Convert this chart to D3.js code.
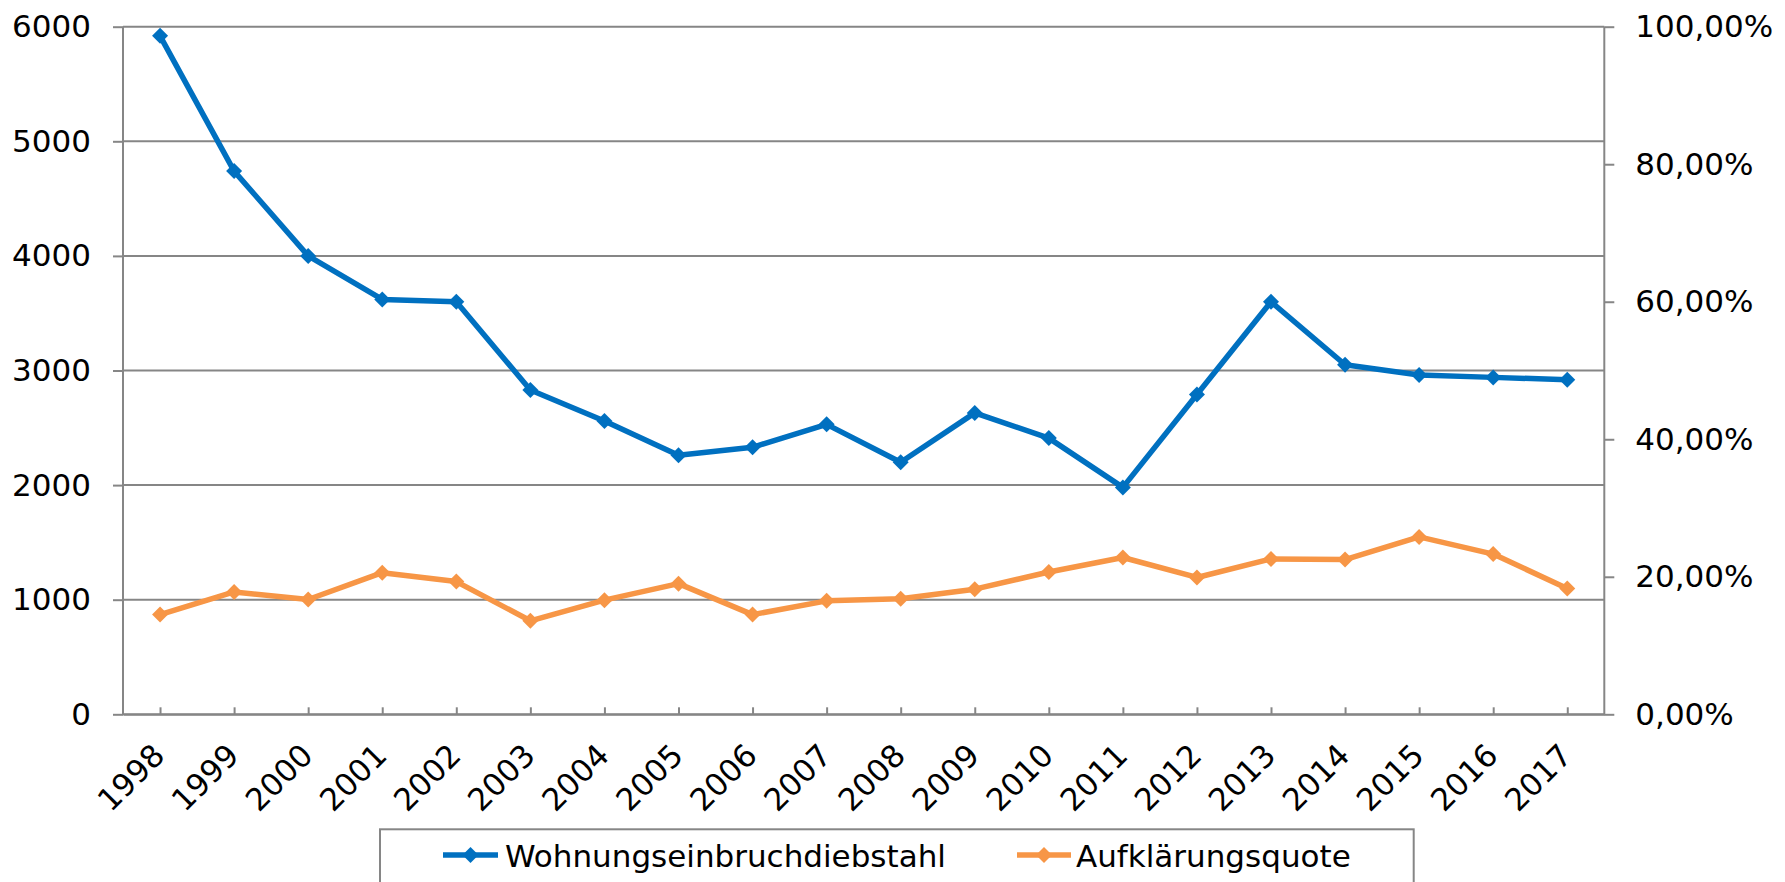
<!DOCTYPE html>
<html>
<head>
<meta charset="utf-8">
<script src="https://cdn.jsdelivr.net/npm/d3@7"></script>
<style>
  html, body { margin: 0; padding: 0; background: #fff; }
  svg { display: block; }
</style>
</head>
<body>
<script>
// Data
const years = ["1998", "1999", "2000", "2001", "2002", "2003", "2004", "2005", "2006", "2007",
  "2008", "2009", "2010", "2011", "2012", "2013", "2014", "2015", "2016", "2017"];
const burglaries = [5920, 4740, 4000, 3620, 3600, 2830, 2560, 2260, 2330, 2530,
  2200, 2630, 2410, 1980, 2790, 3600, 3050, 2960, 2940, 2920];
const clearanceRate = [0.145, 0.178, 0.167, 0.206, 0.193, 0.136, 0.166, 0.190, 0.145, 0.165,
  0.168, 0.182, 0.207, 0.228, 0.199, 0.226, 0.225, 0.258, 0.233, 0.183];
const leftTicks = [0, 1000, 2000, 3000, 4000, 5000, 6000];
const rightTicks = [0, 0.2, 0.4, 0.6, 0.8, 1.0];
const seriesNames = ["Wohnungseinbruchdiebstahl", "Aufklärungsquote"];

const width = 1785, height = 882;
const plotLeft = 123, plotRight = 1604.3, plotTop = 26.7, plotBottom = 714.3;

const gridColor = "#868686";
const blue = "#0070C0";
const orange = "#F79646";
const fontFamily = "'DejaVu Sans', Verdana, sans-serif";
const fontSize = "31px";

const svg = d3.select("body").append("svg")
  .attr("width", width)
  .attr("height", height)
  .style("font-family", fontFamily);

const x = d3.scalePoint()
  .domain(years)
  .range([plotLeft, plotRight])
  .padding(0.5);

const yLeft = d3.scaleLinear().domain([0, 6000]).range([plotBottom, plotTop]);
const yRight = d3.scaleLinear().domain([0, 1]).range([plotBottom, plotTop]);

// horizontal gridlines
svg.append("g")
  .selectAll("line")
  .data(leftTicks)
  .join("line")
  .attr("x1", plotLeft)
  .attr("x2", plotRight)
  .attr("y1", d => yLeft(d))
  .attr("y2", d => yLeft(d))
  .attr("stroke", gridColor)
  .attr("stroke-width", 2);

// left axis
const leftAxis = svg.append("g")
  .attr("transform", `translate(${plotLeft},0)`)
  .call(d3.axisLeft(yLeft).tickValues(leftTicks).tickSize(10).tickPadding(22).tickFormat(d3.format("d")));

// right axis
const rightAxis = svg.append("g")
  .attr("transform", `translate(${plotRight},0)`)
  .call(d3.axisRight(yRight).tickValues(rightTicks).tickSize(10).tickPadding(21)
    .tickFormat(d => (d * 100).toFixed(2).replace(".", ",") + "%"));

// bottom axis, ticks point inward
const bottomAxis = svg.append("g")
  .attr("transform", `translate(0,${plotBottom})`)
  .call(d3.axisBottom(x).tickSizeInner(-7).tickSizeOuter(0));

bottomAxis.selectAll("text")
  .attr("text-anchor", "end")
  .attr("y", 0)
  .attr("dy", 0)
  .attr("transform", "translate(6,43) rotate(-45)");

[leftAxis, rightAxis, bottomAxis].forEach(ax => {
  ax.select(".domain").attr("stroke", gridColor).attr("stroke-width", 2);
  ax.selectAll(".tick line").attr("stroke", gridColor).attr("stroke-width", 2);
  ax.selectAll("text").attr("fill", "#000").style("font-size", fontSize).style("font-family", fontFamily);
});
leftAxis.select(".domain").attr("d", `M0,${plotTop}V${plotBottom}`);
rightAxis.select(".domain").attr("d", `M0,${plotTop}V${plotBottom}`);

// diamond marker path
const diamond = r => `M0,${-r}L${r},0L0,${r}L${-r},0Z`;

function drawSeries(values, yScale, color) {
  const g = svg.append("g");
  g.append("path")
    .datum(values)
    .attr("fill", "none")
    .attr("stroke", color)
    .attr("stroke-width", 5.5)
    .attr("stroke-linejoin", "round")
    .attr("d", d3.line().x((d, i) => x(years[i])).y(d => yScale(d)));
  g.selectAll("path.marker")
    .data(values)
    .join("path")
    .attr("class", "marker")
    .attr("d", diamond(8))
    .attr("fill", color)
    .attr("transform", (d, i) => `translate(${x(years[i])},${yScale(d)})`);
}

drawSeries(clearanceRate, yRight, orange);
drawSeries(burglaries, yLeft, blue);

// legend
const legend = svg.append("g");
legend.append("rect")
  .attr("x", 380)
  .attr("y", 829.3)
  .attr("width", 1033.7)
  .attr("height", 90)
  .attr("fill", "#fff")
  .attr("stroke", gridColor)
  .attr("stroke-width", 2);

const legendItems = [
  { name: seriesNames[0], color: blue, x0: 443, x1: 498, tx: 505 },
  { name: seriesNames[1], color: orange, x0: 1017, x1: 1071, tx: 1076 }
];
legendItems.forEach(item => {
  legend.append("line")
    .attr("x1", item.x0).attr("x2", item.x1)
    .attr("y1", 855).attr("y2", 855)
    .attr("stroke", item.color)
    .attr("stroke-width", 5.5);
  legend.append("path")
    .attr("d", diamond(8))
    .attr("fill", item.color)
    .attr("transform", `translate(${(item.x0 + item.x1) / 2},855)`);
  legend.append("text")
    .attr("x", item.tx)
    .attr("y", 866.7)
    .style("font-size", fontSize)
    .attr("fill", "#000")
    .text(item.name);
});
</script>
</body>
</html>
